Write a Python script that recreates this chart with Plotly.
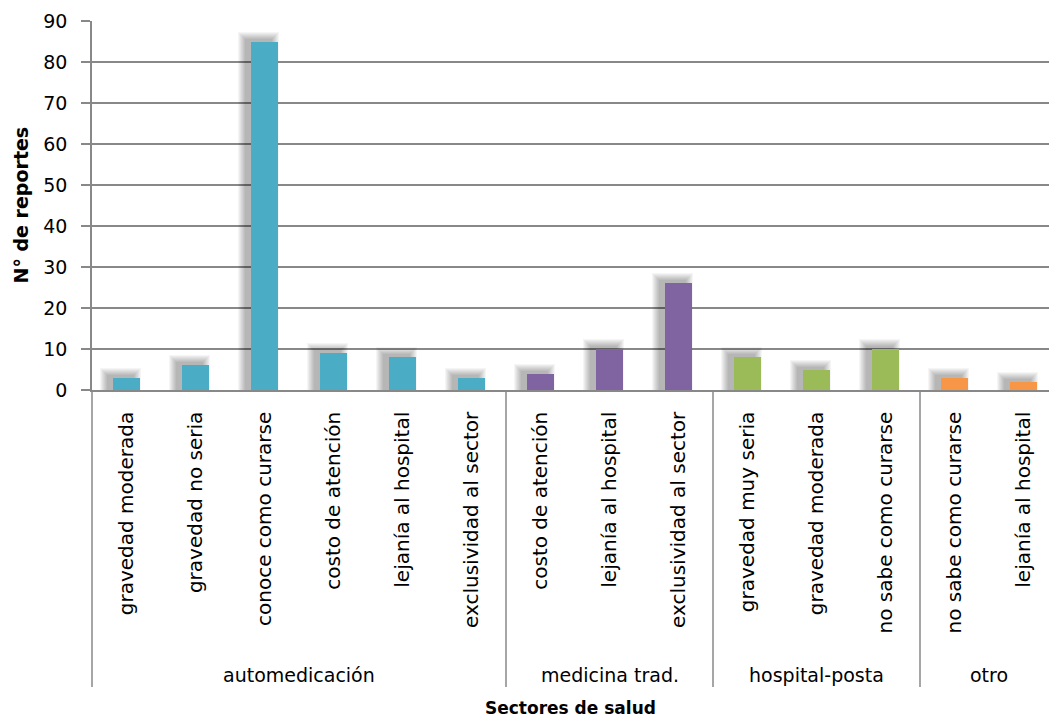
import plotly.graph_objects as go

# Reasons for choosing each health sector (number of reports)
sectors = ["automedicación", "medicina trad.", "hospital-posta", "otro"]
sector_sizes = [6, 3, 3, 2]
sector_colors = ["#4BACC6", "#8064A2", "#9BBB59", "#F79646"]

reasons = [
    "gravedad moderada", "gravedad no seria", "conoce como curarse",
    "costo de atención", "lejanía al hospital", "exclusividad al sector",
    "costo de atención", "lejanía al hospital", "exclusividad al sector",
    "gravedad muy seria", "gravedad moderada", "no sabe como curarse",
    "no sabe como curarse", "lejanía al hospital",
]
reports = [3, 6, 85, 9, 8, 3, 4, 10, 26, 8, 5, 10, 3, 2]

y_ticks = list(range(0, 100, 10))

W, H = 1049, 721
M_L, M_R, M_T, M_B = 92, 0, 21, 331
PX_PER_CAT = 69.0
plot_w = W - M_L - M_R
plot_h = H - M_T - M_B
Y_MAX = 90
px_per_unit = plot_h / Y_MAX
axis_y = H - M_B

x_pos = list(range(len(reasons)))
bar_colors = []
for color, n in zip(sector_colors, sector_sizes):
    bar_colors += [color] * n

BAR_W = 0.4
fig = go.Figure()

# soft drop shadow behind the bars (shifted up-left), built from translucent layers
shadow_dx, shadow_dy = 6, 3
for spread in (7, 6, 5, 4, 3, 2, 1, 0):
    fig.add_trace(go.Bar(
        x=x_pos,
        y=[v + (shadow_dy + spread) / px_per_unit for v in reports],
        base=0,
        width=BAR_W + 2 * spread / PX_PER_CAT,
        offset=-BAR_W / 2 - (shadow_dx + spread) / PX_PER_CAT,
        marker=dict(color="rgba(0,0,0,0.038)", line=dict(width=0)),
        hoverinfo="skip", showlegend=False,
    ))

fig.add_trace(go.Bar(
    x=x_pos, y=reports, width=BAR_W, offset=-BAR_W / 2,
    marker=dict(color=bar_colors, line=dict(width=0)),
    showlegend=False,
))

grid_col = "#888888"
x_end = -0.5 + plot_w / PX_PER_CAT
fig.update_layout(
    width=W, height=H,
    margin=dict(l=M_L, r=M_R, t=M_T, b=M_B, autoexpand=False),
    paper_bgcolor="white", plot_bgcolor="white",
    barmode="overlay", bargap=0,
    font=dict(family="DejaVu Sans", color="#000000"),
    xaxis=dict(
        range=[-0.5, x_end], tickmode="array", tickvals=x_pos, ticktext=reasons,
        tickangle=-90, tickfont=dict(size=20, family="DejaVu Sans"),
        ticks="", showgrid=False, zeroline=False, showline=True,
        linecolor=grid_col, linewidth=1.5, ticklabelstandoff=12,
    ),
    yaxis=dict(
        range=[0, Y_MAX], tickmode="array", tickvals=y_ticks,
        tickfont=dict(size=19, family="DejaVu Sans"),
        ticks="outside", ticklen=9, tickcolor=grid_col, tickwidth=1.5,
        showgrid=True, gridcolor=grid_col, gridwidth=1.5,
        showline=True, linecolor=grid_col, linewidth=1.5, zeroline=False,
        ticklabelstandoff=10,
    ),
)

# multi-level category axis: group dividers and group names
low = -(687 - axis_y) / plot_h
shapes = [dict(type="line", xref="paper", yref="paper", x0=0, x1=0, y0=0, y1=low,
               line=dict(color=grid_col, width=1.5))]
start = 0
for name, n in zip(sectors, sector_sizes):
    end = start + n
    if end < len(reasons):
        shapes.append(dict(type="line", xref="x", yref="paper", x0=end - 0.5, x1=end - 0.5,
                           y0=0, y1=low, line=dict(color=grid_col, width=1.5)))
    fig.add_annotation(x=(start + end - 1) / 2, xref="x", y=-(675 - axis_y) / plot_h,
                       yref="paper", text=name, showarrow=False,
                       font=dict(size=19, family="DejaVu Sans"), yanchor="middle")
    start = end
fig.update_layout(shapes=shapes)

# axis titles
fig.add_annotation(x=(570 - M_L) / plot_w, xref="paper", y=-(708 - axis_y) / plot_h,
                   yref="paper", text="<b>Sectores de salud</b>", showarrow=False,
                   font=dict(size=17, family="DejaVu Sans"), yanchor="middle")
fig.add_annotation(x=(20 - M_L) / plot_w, xref="paper", y=0.5, yref="paper",
                   text="<b>N° de reportes</b>", showarrow=False, textangle=-90,
                   font=dict(size=19, family="DejaVu Sans"),
                   xanchor="center", yanchor="middle")

fig.write_html("out.html")
